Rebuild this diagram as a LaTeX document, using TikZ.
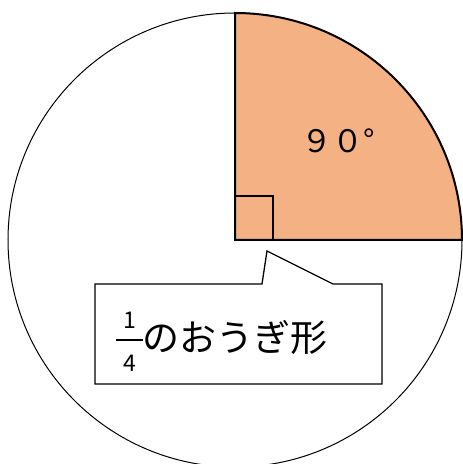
\documentclass[tikz,border=0pt]{standalone}
\usepackage{fontspec}
\setmainfont{Noto Sans CJK JP}
\usepackage{tikz}
\definecolor{fanorange}{HTML}{F4B183}
\tikzstyle{rim} = [draw=black, line width=1pt]
\tikzstyle{sector} = [fill=fanorange, draw=black, line width=2pt, line join=miter]
\tikzstyle{rightangle} = [draw=black, line width=2pt]
\tikzstyle{callout} = [draw=black, fill=white, line width=1.3pt]
\tikzstyle{label} = [inner sep=0pt, anchor=base west]
\tikzstyle{digit} = [inner sep=0pt, font=\fontsize{23}{23}\selectfont]

\begin{document}
\begin{tikzpicture}[x=1pt,y=1pt]
        \useasboundingbox (0,0) rectangle (463,464);
        \coordinate (O) at (235,224);
        \draw[rim] (O) circle (227);
        \draw[sector] (O) -- ++(0,227) arc[start angle=90, end angle=0, radius=227] -- cycle;
        \draw[rightangle] (O) rectangle ++(38,44);
        \node[label, font=\fontsize{31}{31}\selectfont] at (301,311) (angle) {９０°};

        % speech bubble
        \coordinate (tip) at (267,213);
        \draw[callout] (95,180) -- (262,180) -- (tip) -- (333,180) -- (382,180)
                -- (382,80) -- (95,80) -- cycle;
        \node[digit] at (129.5,143.5) (num) {1};
        \node[digit] at (129.5,101) (den) {4};
        \coordinate (barl) at (116,124);
        \coordinate (barr) at (143,124);
        \draw[line width=2.2pt] (barl) -- (barr);
        \node[label, font=\fontsize{37}{37}\selectfont] at (142,112) (part) {のおうぎ形};
\end{tikzpicture}
\end{document}
